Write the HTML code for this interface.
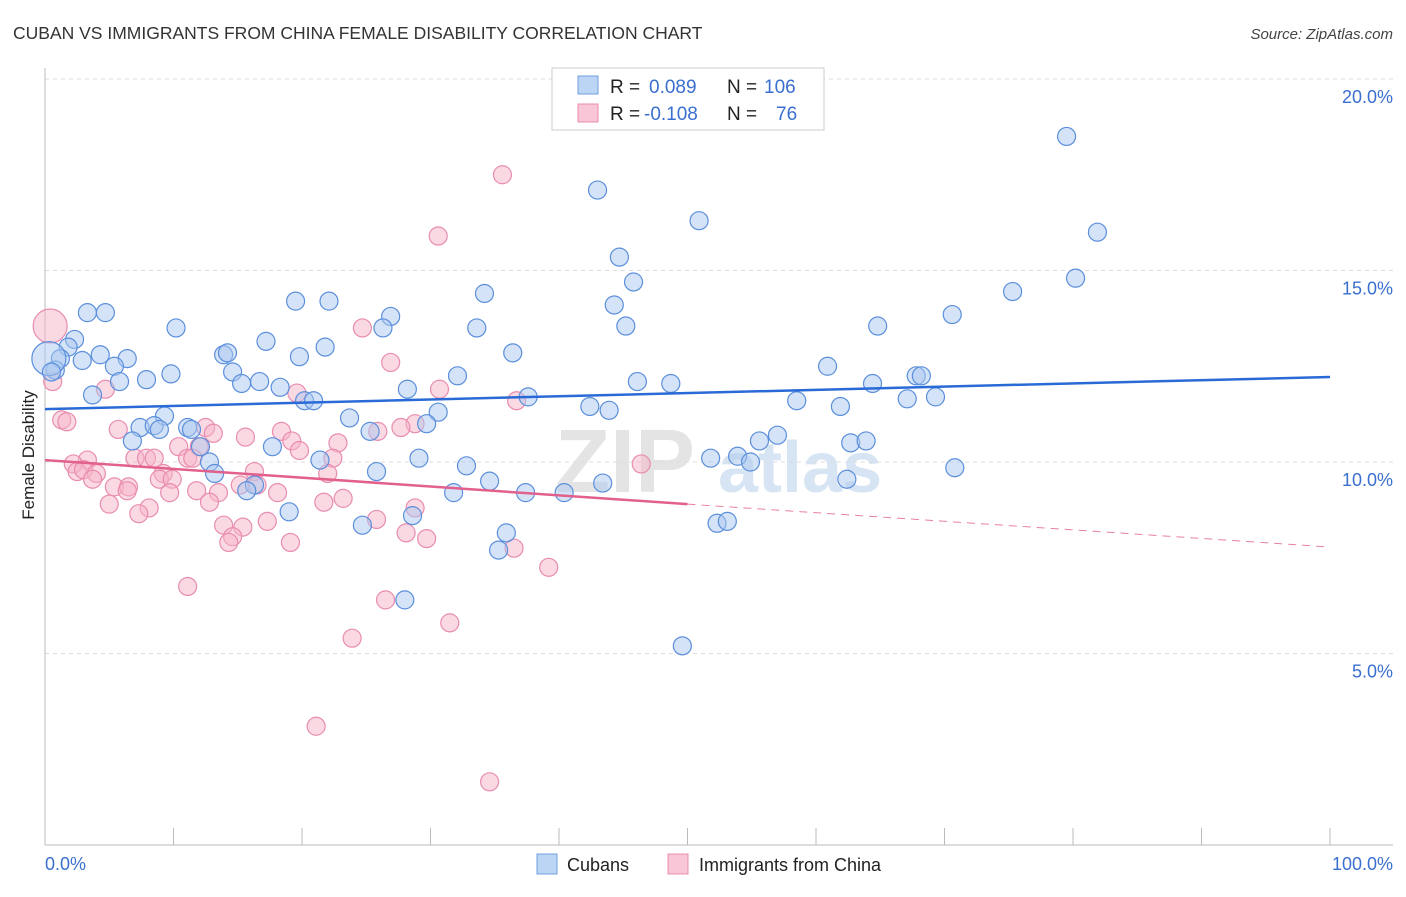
<!DOCTYPE html>
<html><head><meta charset="utf-8">
<style>
body{margin:0;background:#fff;font-family:"Liberation Sans",sans-serif;}
svg text{font-family:"Liberation Sans",sans-serif;}
</style></head>
<body>
<svg id="chart" width="1406" height="892" viewBox="0 0 1406 892" xmlns="http://www.w3.org/2000/svg">
<text x="13" y="39" font-size="17.5" fill="#333">CUBAN VS IMMIGRANTS FROM CHINA FEMALE DISABILITY CORRELATION CHART</text>
<text x="1393" y="39" font-size="15" fill="#444" font-style="italic" text-anchor="end">Source: ZipAtlas.com</text>
<text x="555" y="492" font-size="90" fill="#e4e4e4" font-family="Liberation Serif" font-weight="bold">ZIP</text>
<text x="718" y="492" font-size="72" fill="#d6e4f3" font-weight="bold">atlas</text>
<g id="grid"></g>
<g id="axes"></g>
<g id="pts"></g>
<g id="lines"></g>
<text transform="translate(34,455) rotate(-90)" font-size="17" fill="#222" text-anchor="middle">Female Disability</text>
<g>
<rect x="552" y="68" width="272" height="62" fill="#fff" stroke="#ccc"/>
<rect x="578" y="76" width="20" height="18" fill="#bcd5f5" stroke="#6f9fe0"/>
<rect x="578" y="104" width="20" height="18" fill="#f8c6d6" stroke="#e98caf"/>
<text x="610" y="93" font-size="19" fill="#222">R = </text><text x="649" y="93" font-size="19" fill="#3a6fd0">0.089</text>
<text x="727" y="93" font-size="19" fill="#222">N = </text><text x="764" y="93" font-size="19" fill="#3a6fd0">106</text>
<text x="610" y="120" font-size="19" fill="#222">R = </text><text x="644" y="120" font-size="19" fill="#3a6fd0">-0.108</text>
<text x="727" y="120" font-size="19" fill="#222">N = </text><text x="776" y="120" font-size="19" fill="#3a6fd0">76</text>
</g>
<g>
<rect x="537" y="854" width="20" height="20" fill="#bcd5f5" stroke="#6f9fe0"/>
<text x="567" y="871" font-size="18" fill="#222">Cubans</text>
<rect x="668" y="854" width="20" height="20" fill="#f8c6d6" stroke="#e98caf"/>
<text x="699" y="871" font-size="18" fill="#222">Immigrants from China</text>
</g>
</svg>
<script>
const yTicks=[5,10,15,20];
const yTickLabels=["5.0%","10.0%","15.0%","20.0%"];
const xTickLabels=["0.0%","100.0%"];
const blueX=[79.5,43.0,81.9,50.9,44.7,80.2,45.8,75.3,34.2,44.3,19.5,22.1,3.3,4.7,26.9,70.6,10.2,26.3,33.6,45.2,64.8,17.2,2.3,1.8,21.8,13.9,14.2,4.3,19.8,36.4,1.2,2.9,6.4,5.4,60.9,0.8,9.8,14.6,32.1,67.8,68.2,5.8,7.9,15.3,16.7,46.1,48.7,64.4,18.3,28.2,3.7,20.2,20.9,37.6,58.5,67.1,69.3,61.9,42.4,43.9,30.6,9.3,23.7,29.7,7.4,8.5,8.9,11.1,11.4,25.3,6.8,17.7,12.1,62.7,63.9,55.6,57.0,53.9,51.8,54.9,21.4,29.1,12.8,13.2,25.8,32.8,70.8,62.4,34.6,16.3,43.4,15.7,31.8,37.4,40.4,19.0,28.6,24.7,35.9,52.3,53.1,35.3,28.0,49.6,0.3,0.5];
const blueY=[18.5,17.1,16.0,16.3,15.35,14.8,14.7,14.45,14.4,14.1,14.2,14.2,13.9,13.9,13.8,13.85,13.5,13.5,13.5,13.55,13.55,13.15,13.2,13.0,13.0,12.8,12.85,12.8,12.75,12.85,12.7,12.65,12.7,12.5,12.5,12.4,12.3,12.35,12.25,12.25,12.25,12.1,12.15,12.05,12.1,12.1,12.05,12.05,11.95,11.9,11.75,11.6,11.6,11.7,11.6,11.65,11.7,11.45,11.45,11.35,11.3,11.2,11.15,11.0,10.9,10.95,10.85,10.9,10.85,10.8,10.55,10.4,10.4,10.5,10.55,10.55,10.7,10.15,10.1,10.0,10.05,10.1,10.0,9.7,9.75,9.9,9.85,9.55,9.5,9.4,9.45,9.25,9.2,9.2,9.2,8.7,8.6,8.35,8.15,8.4,8.45,7.7,6.4,5.2,12.7,12.35];
const pinkX=[35.6,30.6,0.4,24.7,26.9,0.6,4.7,30.7,19.6,36.7,1.3,1.7,28.8,12.5,18.4,5.7,25.9,27.7,13.1,15.6,19.2,22.8,10.4,19.8,12.0,7.0,7.9,8.5,11.1,11.5,22.4,3.3,2.2,46.4,2.5,3.0,4.0,9.2,16.3,22.0,3.7,8.9,5.4,6.5,9.9,15.2,16.5,6.4,9.7,11.8,13.5,18.1,23.2,21.7,5.0,12.8,8.1,28.8,7.3,17.3,25.8,13.9,15.4,28.1,14.6,29.7,14.3,19.1,36.5,39.2,11.1,26.5,31.5,23.9,21.1,34.6];
const pinkY=[17.5,15.9,13.55,13.5,12.6,12.1,11.9,11.9,11.8,11.6,11.1,11.05,11.0,10.9,10.8,10.85,10.8,10.9,10.75,10.65,10.55,10.5,10.4,10.3,10.4,10.1,10.1,10.1,10.1,10.1,10.1,10.05,9.95,9.95,9.75,9.8,9.7,9.7,9.75,9.7,9.55,9.55,9.35,9.35,9.55,9.4,9.4,9.25,9.2,9.25,9.2,9.2,9.05,8.95,8.9,8.95,8.8,8.8,8.65,8.45,8.5,8.35,8.3,8.15,8.05,8.0,7.9,7.9,7.75,7.25,6.75,6.4,5.8,5.4,3.1,1.65];
const blueTrend=[11.38,12.22];
const pinkTrend=[10.05,8.9,7.78];
const pinkTrendSolidEnd=50;

const X0=45,X1=1330,Y0=845,YT=79;
const xs=v=>X0+(X1-X0)*v/100;
const ys=v=>Y0-(Y0-YT)*v/20;
const NS="http://www.w3.org/2000/svg";
function mk(tag,attrs,parent){const e=document.createElementNS(NS,tag);for(const k in attrs)e.setAttribute(k,attrs[k]);parent.appendChild(e);return e;}
const grid=document.getElementById('grid'),axes=document.getElementById('axes'),pts=document.getElementById('pts'),lines=document.getElementById('lines'),svg=document.getElementById('chart');
yTicks.forEach((t,i)=>{
 const l=mk('line',{x1:X0,x2:1393,y1:ys(t),y2:ys(t),stroke:'#ddd','stroke-dasharray':'4,4'},grid);
 
 
 const tx=mk('text',{x:1393,y:ys(t)+24,'font-size':18,fill:'#3a6fd0','text-anchor':'end'},axes);
 tx.textContent=yTickLabels[i];
 
 
});
const ax=mk('line',{x1:X0,x2:X0,y1:68,y2:Y0,stroke:'#bbb'},axes);


const bx=mk('line',{x1:X0,x2:1393,y1:Y0,y2:Y0,stroke:'#bbb'},axes);


for(let i=0;i<=10;i++){
 const t=mk('line',{x1:xs(i*10),x2:xs(i*10),y1:828,y2:Y0,stroke:'#bbb'},axes);
 
 
}
const xl0=mk('text',{x:45,y:870,'font-size':18,fill:'#3a6fd0'},axes);
xl0.textContent=xTickLabels[0];


const xl1=mk('text',{x:1393,y:870,'font-size':18,fill:'#3a6fd0','text-anchor':'end'},axes);
xl1.textContent=xTickLabels[1];



function dot(x,y,r,fill,stroke,name){
 const c=mk('circle',{cx:xs(x),cy:ys(y),r:r,fill:fill,'fill-opacity':0.5,stroke:stroke,'stroke-width':1.2},pts);
 
 
}
pinkX.forEach((x,i)=>dot(x,pinkY[i],i==2?17:9,'#f5b3c8','#e98caf','china-point'));
blueX.forEach((x,i)=>dot(x,blueY[i],i==blueX.length-2?17:9,'#a9c8ef','#5b8fdc','cuban-point'));

const bl=mk('line',{x1:xs(0),y1:ys(blueTrend[0]),x2:xs(100),y2:ys(blueTrend[1]),stroke:'#2a6ad6','stroke-width':2.5},lines);


const pl=mk('line',{x1:xs(0),y1:ys(pinkTrend[0]),x2:xs(pinkTrendSolidEnd),y2:ys(pinkTrend[1]),stroke:'#e2608c','stroke-width':2.5},lines);


const pd=mk('line',{x1:xs(pinkTrendSolidEnd),y1:ys(pinkTrend[1]),x2:xs(100),y2:ys(pinkTrend[2]),stroke:'#e8809f','stroke-width':1,'stroke-dasharray':'8,6'},lines);


</script>
</body></html>
